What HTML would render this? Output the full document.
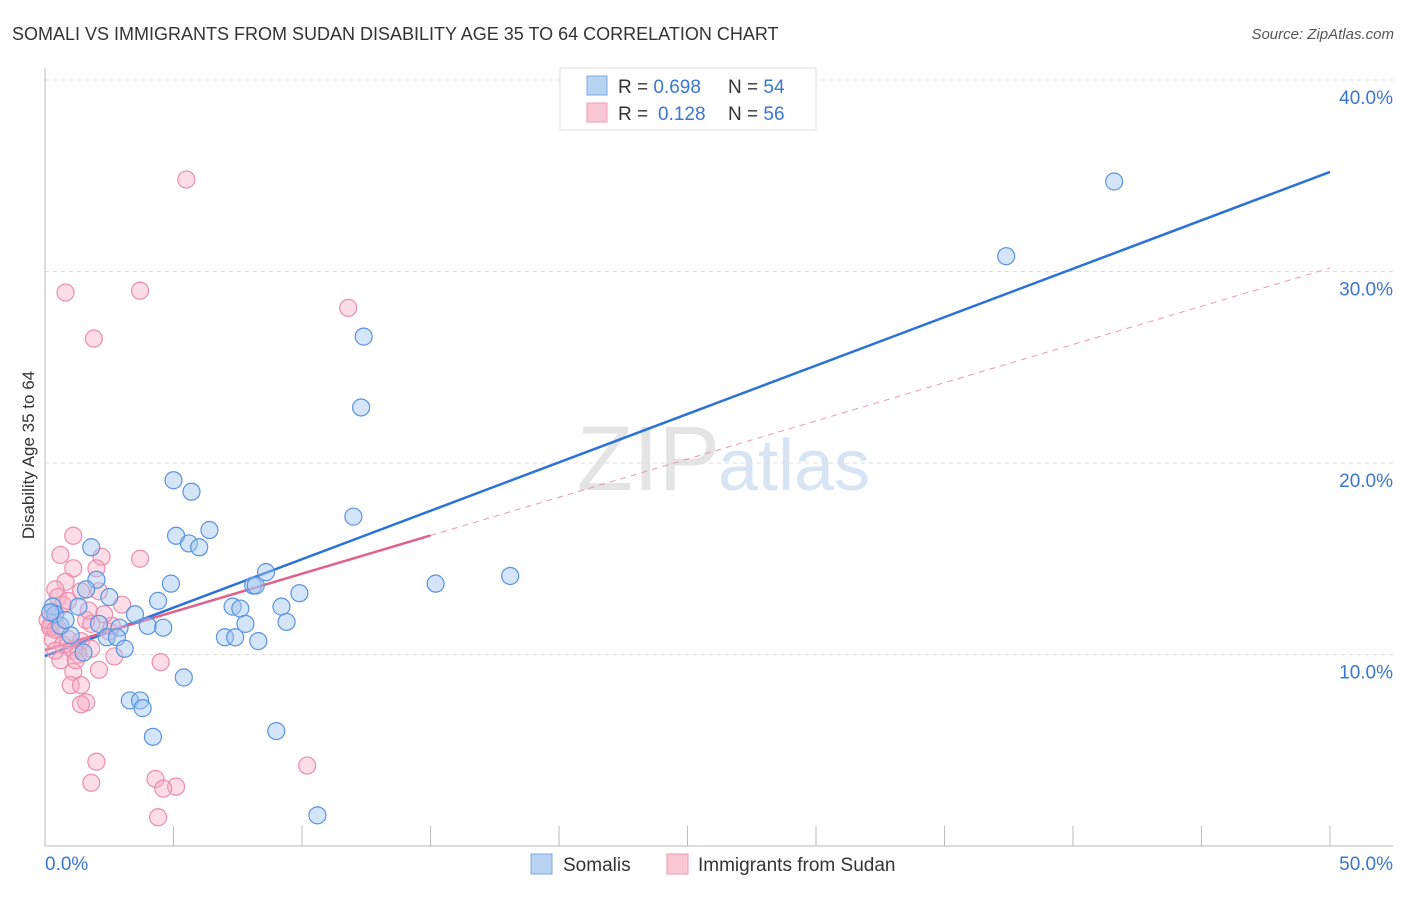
<!DOCTYPE html>
<html><head><meta charset="utf-8"><style>
body{margin:0;background:#fff;font-family:"Liberation Sans",sans-serif}
svg text{font-family:"Liberation Sans",sans-serif}
</style></head><body>
<svg width="1406" height="892" id="chart">
<text x="12" y="40" font-size="18" fill="#333">SOMALI VS IMMIGRANTS FROM SUDAN DISABILITY AGE 35 TO 64 CORRELATION CHART</text>
<text x="1394" y="39" font-size="15" fill="#555" font-style="italic" text-anchor="end">Source: ZipAtlas.com</text>
<text x="720" y="490" font-size="92" fill="#e4e4e4" text-anchor="end" font-family="Liberation Serif">ZIP</text>
<text x="718" y="490" font-size="72" fill="#d7e4f4">atlas</text>
<text transform="translate(34,455) rotate(-90)" font-size="17" fill="#333" text-anchor="middle">Disability Age 35 to 64</text>
<g id="grid"></g><g id="axes"></g><g id="trends"></g><g id="points"></g>
<g>
<rect x="560" y="68" width="256" height="62" fill="#fff" stroke="#ddd"/>
<rect x="587" y="76" width="20" height="19" fill="#b9d3f3" stroke="#7eaae6"/>
<rect x="587" y="103" width="20" height="19" fill="#f9c6d4" stroke="#ef9bb4"/>
<text x="618" y="93" font-size="19" fill="#333">R = <tspan fill="#3a76d0">0.698</tspan><tspan x="728">N = </tspan><tspan fill="#3a76d0">54</tspan></text>
<text x="618" y="120" font-size="19" fill="#333">R = <tspan fill="#3a76d0" x="658">0.128</tspan><tspan x="728">N = </tspan><tspan fill="#3a76d0">56</tspan></text>
</g>
<g>
<rect x="531" y="854" width="21" height="20" fill="#b9d3f3" stroke="#7eaae6"/>
<text x="563" y="871" font-size="19" fill="#333">Somalis</text>
<rect x="667" y="854" width="21" height="20" fill="#f9c6d4" stroke="#ef9bb4"/>
<text x="698" y="871" font-size="19" fill="#333">Immigrants from Sudan</text>
</g>
</svg>
<script>
const xTicks=[0,5,10,15,20,25,30,35,40,45,50];
const yTicks=[10,20,30,40];
const somX=[41.6,37.4,12.4,12.3,5.0,5.7,12.0,6.4,5.1,5.6,6.0,1.8,8.6,18.1,15.2,2.0,4.9,1.6,2.5,9.9,4.4,7.3,7.6,9.2,1.3,0.3,3.5,7.8,9.4,4.0,4.6,2.9,2.1,7.0,7.4,1.0,2.4,2.8,8.3,3.1,1.5,5.4,3.3,3.7,3.8,4.2,9.0,10.6,0.4,0.6,0.2,8.1,8.2,0.8];
const somY=[34.7,30.8,26.6,22.9,19.1,18.5,17.2,16.5,16.2,15.8,15.6,15.6,14.3,14.1,13.7,13.9,13.7,13.4,13.0,13.2,12.8,12.5,12.4,12.5,12.5,12.5,12.1,11.6,11.7,11.5,11.4,11.4,11.6,10.9,10.9,11.0,10.9,10.9,10.7,10.3,10.1,8.8,7.6,7.6,7.2,5.7,6.0,1.6,12.1,11.5,12.2,13.6,13.6,11.8];
const sudX=[5.5,0.8,3.7,11.8,1.9,1.1,0.6,2.2,3.7,1.1,2.0,0.8,0.4,0.5,2.1,1.4,0.7,3.0,0.3,0.2,1.6,1.8,0.5,2.5,0.9,1.4,0.3,1.8,1.1,1.3,0.6,2.7,1.1,2.1,4.5,1.0,1.4,1.6,1.4,2.0,1.8,4.3,5.1,4.6,10.2,4.4,0.2,0.1,0.4,0.7,2.6,2.3,0.9,1.7,1.2,0.4];
const sudY=[34.8,28.9,29.0,28.1,26.5,16.2,15.2,15.1,15.0,14.5,14.5,13.8,13.4,13.0,13.3,13.3,12.6,12.6,12.2,11.5,11.8,11.6,11.4,11.2,10.8,10.7,10.8,10.3,10.2,10.0,9.7,9.9,9.1,9.2,9.6,8.4,8.4,7.5,7.4,4.4,3.3,3.5,3.1,3.0,4.2,1.5,11.4,11.8,11.3,10.5,11.5,12.1,12.8,12.3,9.7,10.2];
const somTrend=[9.92,35.2];
const sudTrend=[10.23,30.18];
const sudSolidEnd=15;
const X=v=>45+v*25.7, Y=v=>846-v*19.15;
const NS='http://www.w3.org/2000/svg';
function mk(tag,attrs,parent){const e=document.createElementNS(NS,tag);for(const k in attrs)e.setAttribute(k,attrs[k]);document.getElementById(parent).appendChild(e);return e;}
yTicks.forEach(t=>{
 const l=mk('line',{x1:45,x2:1393,y1:Y(t),y2:Y(t),stroke:'#ddd','stroke-dasharray':'4,4'},'grid');
 
 
 const tx=mk('text',{x:1393,y:Y(t)+24,'font-size':19,fill:'#3a76d0','text-anchor':'end'},'grid');
 tx.textContent=t.toFixed(1)+'%';
 
 
});
const ax=mk('line',{x1:45,x2:1393,y1:846,y2:846,stroke:'#bbb'},'axes');


const ay=mk('line',{x1:45,x2:45,y1:68,y2:846,stroke:'#bbb'},'axes');


xTicks.forEach(t=>{
 const l=mk('line',{x1:X(t),x2:X(t),y1:826,y2:846,stroke:'#bbb'},'axes');
 
 
});
[[0,'start',45],[50,'end',1393]].forEach(([t,a,x])=>{
 const tx=mk('text',{x:x,y:870,'font-size':19,fill:'#3a76d0','text-anchor':a},'axes');
 tx.textContent=t.toFixed(1)+'%';
 
 
});
function pts(xs,ys,fill,stroke,name){xs.forEach((v,i)=>{
 const c=mk('circle',{cx:X(v),cy:Y(ys[i]),r:8.5,fill:fill,stroke:stroke,'stroke-width':1.2},'points');
 
 
});}
pts(sudX,sudY,'rgba(247,170,195,0.4)','#ea8eab','sudan-point');
pts(somX,somY,'rgba(160,198,242,0.45)','#5a93df','somali-point');
const sd=mk('line',{x1:X(sudSolidEnd),y1:Y(sudTrend[0]+(sudTrend[1]-sudTrend[0])*sudSolidEnd/50),x2:X(50),y2:Y(sudTrend[1]),stroke:'#e89ab2','stroke-width':1,'stroke-dasharray':'6,5'},'trends');


const bl=mk('line',{x1:X(0),y1:Y(somTrend[0]),x2:X(50),y2:Y(somTrend[1]),stroke:'#2a72d8','stroke-width':2.5},'trends');


const pl=mk('line',{x1:X(0),y1:Y(sudTrend[0]),x2:X(sudSolidEnd),y2:Y(sudTrend[0]+(sudTrend[1]-sudTrend[0])*sudSolidEnd/50),stroke:'#e0628c','stroke-width':2.5},'trends');


</script>
</body></html>
